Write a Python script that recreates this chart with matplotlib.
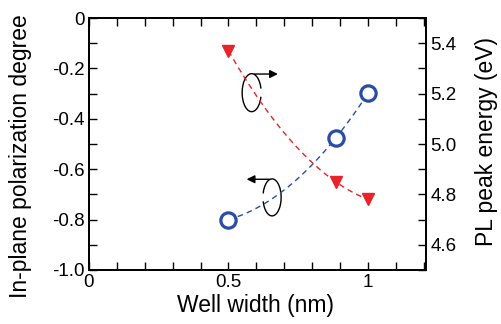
import numpy as np
import matplotlib
matplotlib.use("Agg")
import matplotlib.pyplot as plt
from matplotlib.patches import Arc
from matplotlib.ticker import MultipleLocator

plt.rcParams['font.family'] = ['Liberation Sans', 'DejaVu Sans']

# data
well_width = [0.5, 0.884, 1.0]
polarization = [-0.80, -0.476, -0.298]     # left axis
pl_energy = [5.37, 4.85, 4.78]              # right axis (eV)

blue = '#2a4da3'
red = '#e8232a'

fig = plt.figure(figsize=(5.02, 3.24), dpi=100)
ax = fig.add_axes([0.177, 0.167, 0.672, 0.777])
ax2 = ax.twinx()

# fitted trend lines (quadratic through the points)
xs = np.linspace(0.5, 1.0, 100)
pb = np.polyfit(well_width, polarization, 2)
pr = np.polyfit(well_width, pl_energy, 2)
ax.plot(xs, np.polyval(pb, xs), '--', color=blue, lw=1.0, dashes=(4, 3))
ax2.plot(xs, np.polyval(pr, xs), '--', color=red, lw=1.0, dashes=(4, 3))

ax.plot(well_width, polarization, 'o', ms=11, mfc='white', mec=blue, mew=2.3, zorder=5)
ax2.plot(well_width, pl_energy, 'v', ms=9, color=red, zorder=5)

ax.set_xlim(0, 1.208)
ax.set_ylim(-1.0, 0)
ax2.set_ylim(4.5, 5.5)

ax.xaxis.set_minor_locator(MultipleLocator(0.1))
ax.yaxis.set_minor_locator(MultipleLocator(0.1))
ax2.yaxis.set_minor_locator(MultipleLocator(0.1))
ax.set_yticks([0, -0.2, -0.4, -0.6, -0.8, -1.0])
ax.set_yticklabels(['0', '-0.2', '-0.4', '-0.6', '-0.8', '-1.0'])
ax.set_xticks([0, 0.5, 1.0])
ax.set_xticklabels(['0', '0.5', '1'])
ax2.set_yticks([4.6, 4.8, 5.0, 5.2, 5.4])

ax.tick_params(axis='x', which='both', direction='in', top=True, labelsize=13.5, pad=3)
ax.tick_params(axis='y', which='both', direction='in', labelsize=13.5, pad=3)
ax2.tick_params(axis='y', which='both', direction='in', labelsize=13.5, pad=3)
for a in (ax, ax2):
    a.tick_params(which='major', length=6, width=1.0)
    a.tick_params(which='minor', length=6, width=1.0)
    for s in a.spines.values():
        s.set_linewidth(1.3)

ax.set_xlabel('Well width (nm)', fontsize=16.5)
ax.set_ylabel('In-plane polarization degree', fontsize=16.5)
ax2.set_ylabel('PL peak energy (eV)', fontsize=16.5)
ax.xaxis.set_label_coords(0.495, -0.097)
ax.yaxis.set_label_coords(-0.168, 0.45)
ax2.yaxis.set_label_coords(1.145, 0.51)

# curly arrows pointing to the axes
ax.add_patch(Arc((0.583, -0.296), 0.068, 0.151, theta1=26, theta2=334, color='black', lw=1.0))
ax.annotate('', xy=(0.687, -0.222), xytext=(0.583, -0.222),
            arrowprops=dict(arrowstyle='-|>', color='black', lw=1.0, mutation_scale=12))
ax.add_patch(Arc((0.656, -0.712), 0.065, 0.147, theta1=-154, theta2=154, color='black', lw=1.0))
ax.annotate('', xy=(0.555, -0.64), xytext=(0.656, -0.64),
            arrowprops=dict(arrowstyle='-|>', color='black', lw=1.0, mutation_scale=12))

fig.savefig('out.png', dpi=100)
